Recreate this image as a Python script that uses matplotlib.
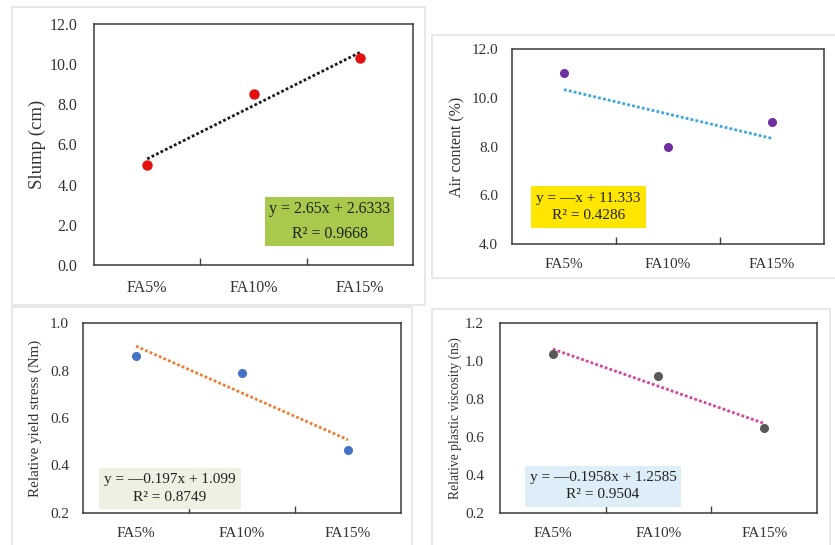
import matplotlib
matplotlib.use("Agg")
import matplotlib.pyplot as plt
from matplotlib.patches import Rectangle
import numpy as np

plt.rcParams['font.family'] = ['Liberation Serif', 'DejaVu Serif']

# ---- data ----
categories = ["FA5%", "FA10%", "FA15%"]
slump = [5.0, 8.5, 10.3]
air_content = [11.0, 8.0, 9.0]
yield_stress = [0.86, 0.79, 0.466]
plastic_visc = [1.036, 0.92, 0.645]

slump_ticks = [0.0, 2.0, 4.0, 6.0, 8.0, 10.0, 12.0]
air_ticks = [4.0, 6.0, 8.0, 10.0, 12.0]
yield_ticks = [0.2, 0.4, 0.6, 0.8, 1.0]
visc_ticks = [0.2, 0.4, 0.6, 0.8, 1.0, 1.2]

slump_eq = "y = 2.65x + 2.6333\nR\u00b2 = 0.9668"
air_eq = "y = \u2014x + 11.333\nR\u00b2 = 0.4286"
yield_eq = "y = \u20140.197x + 1.099\nR\u00b2 = 0.8749"
visc_eq = "y = \u20140.1958x + 1.2585\nR\u00b2 = 0.9504"

W, H = 835, 545
fig = plt.figure(figsize=(W / 100, H / 100), dpi=100)
fig.patch.set_facecolor("white")


def fbox(l, t, r, b):
    return [l / W, 1 - b / H, (r - l) / W, (b - t) / H]


def panel_border(l, t, r, b):
    fig.patches.append(Rectangle((l / W, 1 - b / H), (r - l) / W, (b - t) / H,
                                 transform=fig.transFigure, fill=False,
                                 edgecolor="#e6e6e6", linewidth=1.3, zorder=-5))


def make_panel(axbox, border, vals, yticks, ylabel, ylab_fs, tick_fs, xpad, ypad,
               ylab_x, mcolor, ms, lcolor, eq, eqbox, eqcolor, eq_fs, eq_ls):
    panel_border(*border)
    ax = fig.add_axes(fbox(*axbox))
    x = np.arange(1, len(vals) + 1)
    coef = np.polyfit(x, vals, 1)
    xt = np.array([1, 3])
    ax.plot(xt, np.polyval(coef, xt), linestyle=(0, (1, 0.8)), color=lcolor,
            linewidth=2.0, zorder=2)
    ax.plot(x, vals, 'o', color=mcolor, markersize=ms, zorder=3)
    ax.set_xlim(0.5, 3.5)
    ax.set_ylim(yticks[0], yticks[-1])
    ax.set_yticks(yticks)
    ax.set_yticklabels([f"{v:.1f}" for v in yticks], fontsize=tick_fs, color="#333333")
    ax.tick_params(axis='y', length=0, pad=ypad)
    ax.set_xticks([1.5, 2.5])
    ax.set_xticklabels([])
    ax.set_xticks([1, 2, 3], minor=True)
    ax.set_xticklabels(categories, minor=True, fontsize=tick_fs, color="#333333")
    ax.tick_params(axis='x', which='major', direction='in', length=5, width=1,
                   color="#404040")
    ax.tick_params(axis='x', which='minor', length=0, pad=xpad)
    for s in ax.spines.values():
        s.set_color("#3a3a3a")
        s.set_linewidth(1.1)
    ax.set_ylabel(ylabel, fontsize=ylab_fs, color="#333333", va='center')
    l, t, r, b = axbox
    ax.yaxis.set_label_coords((ylab_x - l) / (r - l), 0.5)
    el, et, er, eb = eqbox
    ex0 = (el - l) / (r - l)
    ey0 = (b - eb) / (b - t)
    ew = (er - el) / (r - l)
    eh = (eb - et) / (b - t)
    ax.add_patch(Rectangle((ex0, ey0), ew, eh, transform=ax.transAxes,
                           facecolor=eqcolor, edgecolor='none', zorder=4))
    ax.text(ex0 + ew / 2, ey0 + eh / 2, eq, transform=ax.transAxes, ha='center',
            va='center', multialignment='center', fontsize=eq_fs, color="#222222",
            zorder=5, linespacing=eq_ls)
    return ax


make_panel((94, 24, 413, 265), (12, 7, 425, 305), slump, slump_ticks, "Slump (cm)",
           13.5, 11.5, 10.5, 12, 37, "#e31010", 6.5, "#1a1a1a", slump_eq,
           (265, 197, 394, 246), "#a8c94c", 11.5, 1.75)
make_panel((512, 49, 824, 244), (432, 35, 837, 278), air_content, air_ticks,
           "Air content (%)", 11.5, 11, 10, 10, 457, "#7030a0", 5.5, "#3aa8dc",
           air_eq, (531, 186, 646, 228), "#ffe600", 11, 1.45)
make_panel((83, 323, 401, 513), (12, 307, 412, 547), yield_stress, yield_ticks,
           "Relative yield stress (Nm)", 10.8, 11, 10, 10, 35, "#4472c4", 5.5,
           "#ed7d31", yield_eq, (99, 468, 241, 509), "#eef1e1", 11, 1.45)
make_panel((500, 323, 817, 513), (432, 309, 830, 547), plastic_visc, visc_ticks,
           "Relative plastic viscosity (ns)", 9.8, 11, 10, 11.5, 455, "#595959", 5.5,
           "#d6449c", visc_eq, (525, 466, 681, 507), "#ddeef8", 11, 1.4)

fig.savefig("out.png", dpi=100)
